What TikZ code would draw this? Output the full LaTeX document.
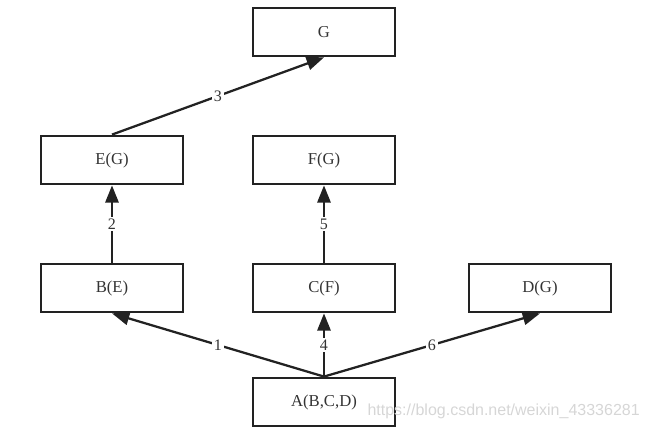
\documentclass[tikz,border=0pt]{standalone}
\usepackage{fontspec}
\setmainfont{Liberation Serif}
\newfontfamily\wmfont{Liberation Sans}
\usetikzlibrary{arrows.meta, positioning}
\definecolor{boxtext}{HTML}{333333}
\definecolor{linecol}{HTML}{222222}

\begin{document}
\begin{tikzpicture}[
    on grid,
    box/.style={draw=linecol, line width=1.6pt, minimum width=106pt, minimum height=36.5pt,
                font=\fontsize{12.5}{14}\selectfont, text=boxtext, inner sep=0pt},
    every edge/.append style={line width=1.7pt, draw=linecol,
                -{Triangle[length=13pt, width=10pt]}},
    lbl/.style={fill=white, inner sep=1.2pt, font=\fontsize{12}{14}\selectfont, text=boxtext}
]
   \useasboundingbox (-243pt,-22.5pt) rectangle (242.25pt,301.5pt);

   % Tasks
   \node[box] (A) {A(B,C,D)};
   \node[box] (C) [above=85.5pt of A] {C(F)};
   \node[box] (B) [left=159pt of C] {B(E)};
   \node[box] (D) [right=162pt of C] {D(G)};
   \node[box] (E) [above=96pt of B] {E(G)};
   \node[box] (F) [above=96pt of C] {F(G)};
   \node[box] (G) [above=96pt of F] {G};

   % Order
   \path
   (A.north) edge node[lbl] {1} (B.south)
   (A.north) edge node[lbl] {4} (C.south)
   (A.north) edge node[lbl] {6} (D.south)
   (B) edge node[lbl] {2} (E)
   (C) edge node[lbl] {5} (F)
   (E.north) edge node[lbl] {3} (G.south);

   % watermark
   \node[anchor=east, inner sep=0pt, text=black!16, font=\wmfont\fontsize{12}{14}\selectfont]
      (wm) at (237pt,-6.75pt) {https://blog.csdn.net/weixin\_43336281};
\end{tikzpicture}
\end{document}
